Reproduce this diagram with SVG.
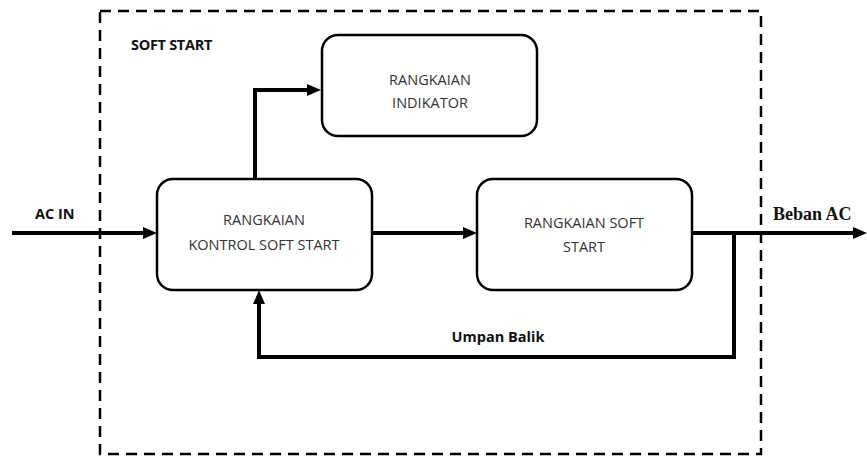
<svg xmlns="http://www.w3.org/2000/svg" width="867" height="457" viewBox="0 0 867 457">
<defs>
<marker id="ahw" markerWidth="14" markerHeight="12" refX="4" refY="6" orient="auto" markerUnits="userSpaceOnUse" viewBox="0 0 14 12">
<path d="M0,0 L14,6 L0,12 z" fill="#000"/>
</marker>
<style>
.box{fill:#fff;stroke:#000;stroke-width:2.5}
.t{font-family:"Open Sans","Noto Sans",sans-serif;font-size:14.5px;fill:#333;text-anchor:middle}
.b{font-family:"Open Sans","Noto Sans",sans-serif;font-size:14.5px;font-weight:bold;fill:#111}
.c{fill:none;stroke:#000;stroke-width:4}
</style>
</defs>
<rect width="867" height="457" fill="#fff"/>
<rect id="frame" x="100" y="11" width="661" height="443" fill="none" stroke="#000" stroke-width="2.5" stroke-dasharray="11 7"/>
<text class="b" x="131" y="50" letter-spacing="-0.3">SOFT START</text>
<g id="connectors">
<path class="c" d="M12,233 H147" marker-end="url(#ahw)"/>
<path class="c" d="M255,179 V90 H311" marker-end="url(#ahw)"/>
<path class="c" d="M372,233 H467" marker-end="url(#ahw)"/>
<path class="c" d="M692,233 H857" marker-end="url(#ahw)"/>
<path class="c" d="M734,233 V357 H259 V300" marker-end="url(#ahw)"/>
</g>
<g id="indikator">
<rect class="box" x="322" y="35" width="215" height="101" rx="16"/>
<text class="t" x="430" y="85">RANGKAIAN</text>
<text class="t" x="430" y="108">INDIKATOR</text>
</g>
<g id="kontrol">
<rect class="box" x="157" y="179" width="215" height="111" rx="16"/>
<text class="t" x="264" y="225">RANGKAIAN</text>
<text class="t" x="264" y="250">KONTROL SOFT START</text>
</g>
<g id="softstart">
<rect class="box" x="477" y="179" width="215" height="111" rx="16"/>
<text class="t" x="584" y="228">RANGKAIAN SOFT</text>
<text class="t" x="584" y="252">START</text>
</g>
<text class="b" x="35" y="219">AC IN</text>
<text x="773" y="220" font-family="'Liberation Serif',serif" font-weight="bold" font-size="18" fill="#111">Beban AC</text>
<text class="b" x="498" y="342" text-anchor="middle">Umpan Balik</text>
</svg>
